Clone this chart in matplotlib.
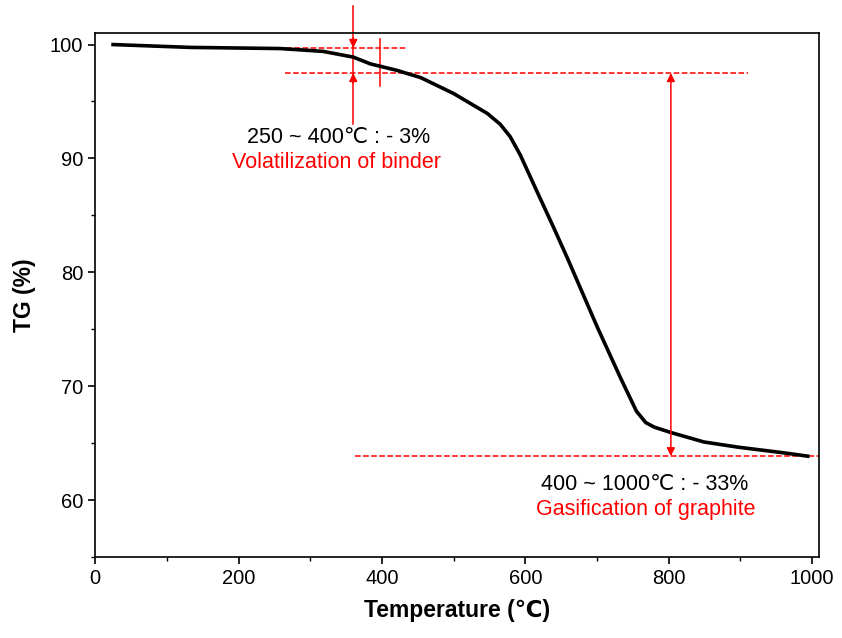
import numpy as np
import matplotlib
matplotlib.use('Agg')
import matplotlib.pyplot as plt
from matplotlib.ticker import MultipleLocator

plt.rcParams['font.family'] = ['Liberation Sans', 'DejaVu Sans']
plt.rcParams['font.size'] = 14

# TG curve
temp = [25, 133, 258, 318, 360, 384, 420, 454, 500, 547, 565, 579, 593,
        617, 639, 659, 701, 733, 755, 768, 780, 802, 849, 896, 966, 994]
tg = [100.0, 99.75, 99.65, 99.4, 98.9, 98.3, 97.75, 97.1, 95.7, 93.95,
      93.0, 91.9, 90.3, 87.0, 84.0, 81.2, 75.1, 70.7, 67.8, 66.8, 66.4,
      65.95, 65.1, 64.65, 64.1, 63.85]

step1_text = '250 ~ 400\u2103 : - 3%'
step1_name = 'Volatilization of binder'
step2_text = '400 ~ 1000\u2103 : - 33%'
step2_name = 'Gasification of graphite'

fig = plt.figure(figsize=(8.42, 6.38), dpi=100)
ax = fig.add_axes([0.113, 0.127, 0.860, 0.821])

ax.plot(temp, tg, color='black', lw=2.6, zorder=3)

red = '#ff0000'
# dashed reference levels
ax.plot([233, 433], [99.7, 99.7], '--', color=red, lw=1.1)
ax.plot([265, 911], [97.5, 97.5], '--', color=red, lw=1.1)
ax.plot([362, 1010], [63.85, 63.85], '--', color=red, lw=1.1)

# small step arrows at 360 C
ax.plot([360, 360], [103.4, 93.0], color=red, lw=1.1, clip_on=False)
ax.annotate('', xy=(360, 99.7), xytext=(360, 100.6),
            arrowprops=dict(arrowstyle='-|>', color=red, lw=1.1,
                            mutation_scale=12, shrinkA=0, shrinkB=0),
            annotation_clip=False)
ax.annotate('', xy=(360, 97.5), xytext=(360, 96.6),
            arrowprops=dict(arrowstyle='-|>', color=red, lw=1.1,
                            mutation_scale=12, shrinkA=0, shrinkB=0))
ax.plot([398, 398], [100.5, 96.4], color=red, lw=1.1)

# big double arrow
ax.annotate('', xy=(803, 97.5), xytext=(803, 63.85),
            arrowprops=dict(arrowstyle='<|-|>', color=red, lw=1.1,
                            mutation_scale=12, shrinkA=0, shrinkB=0))

ax.text(339, 91.8, step1_text, ha='center', va='center', fontsize=15.5)
ax.text(336, 89.6, step1_name, ha='center', va='center', fontsize=15.5, color=red)
ax.text(767, 61.4, step2_text, ha='center', va='center', fontsize=15.5)
ax.text(768, 59.2, step2_name, ha='center', va='center', fontsize=15.5, color=red)

ax.set_xlim(0, 1010)
ax.set_ylim(55, 101)
ax.set_xticks([0, 200, 400, 600, 800, 1000])
ax.set_yticks([60, 70, 80, 90, 100])
ax.xaxis.set_minor_locator(MultipleLocator(100))
ax.yaxis.set_minor_locator(MultipleLocator(5))
ax.tick_params(which='major', direction='out', length=5, width=1.2, labelsize=14.5)
ax.tick_params(which='minor', direction='out', length=3, width=1.0)
for s in ax.spines.values():
    s.set_linewidth(1.2)

ax.set_xlabel('Temperature (\u2103)', fontsize=16.5, fontweight='bold', labelpad=8)
ax.set_ylabel('TG (%)', fontsize=16.5, fontweight='bold', labelpad=10)

fig.savefig('out.png', dpi=100)
